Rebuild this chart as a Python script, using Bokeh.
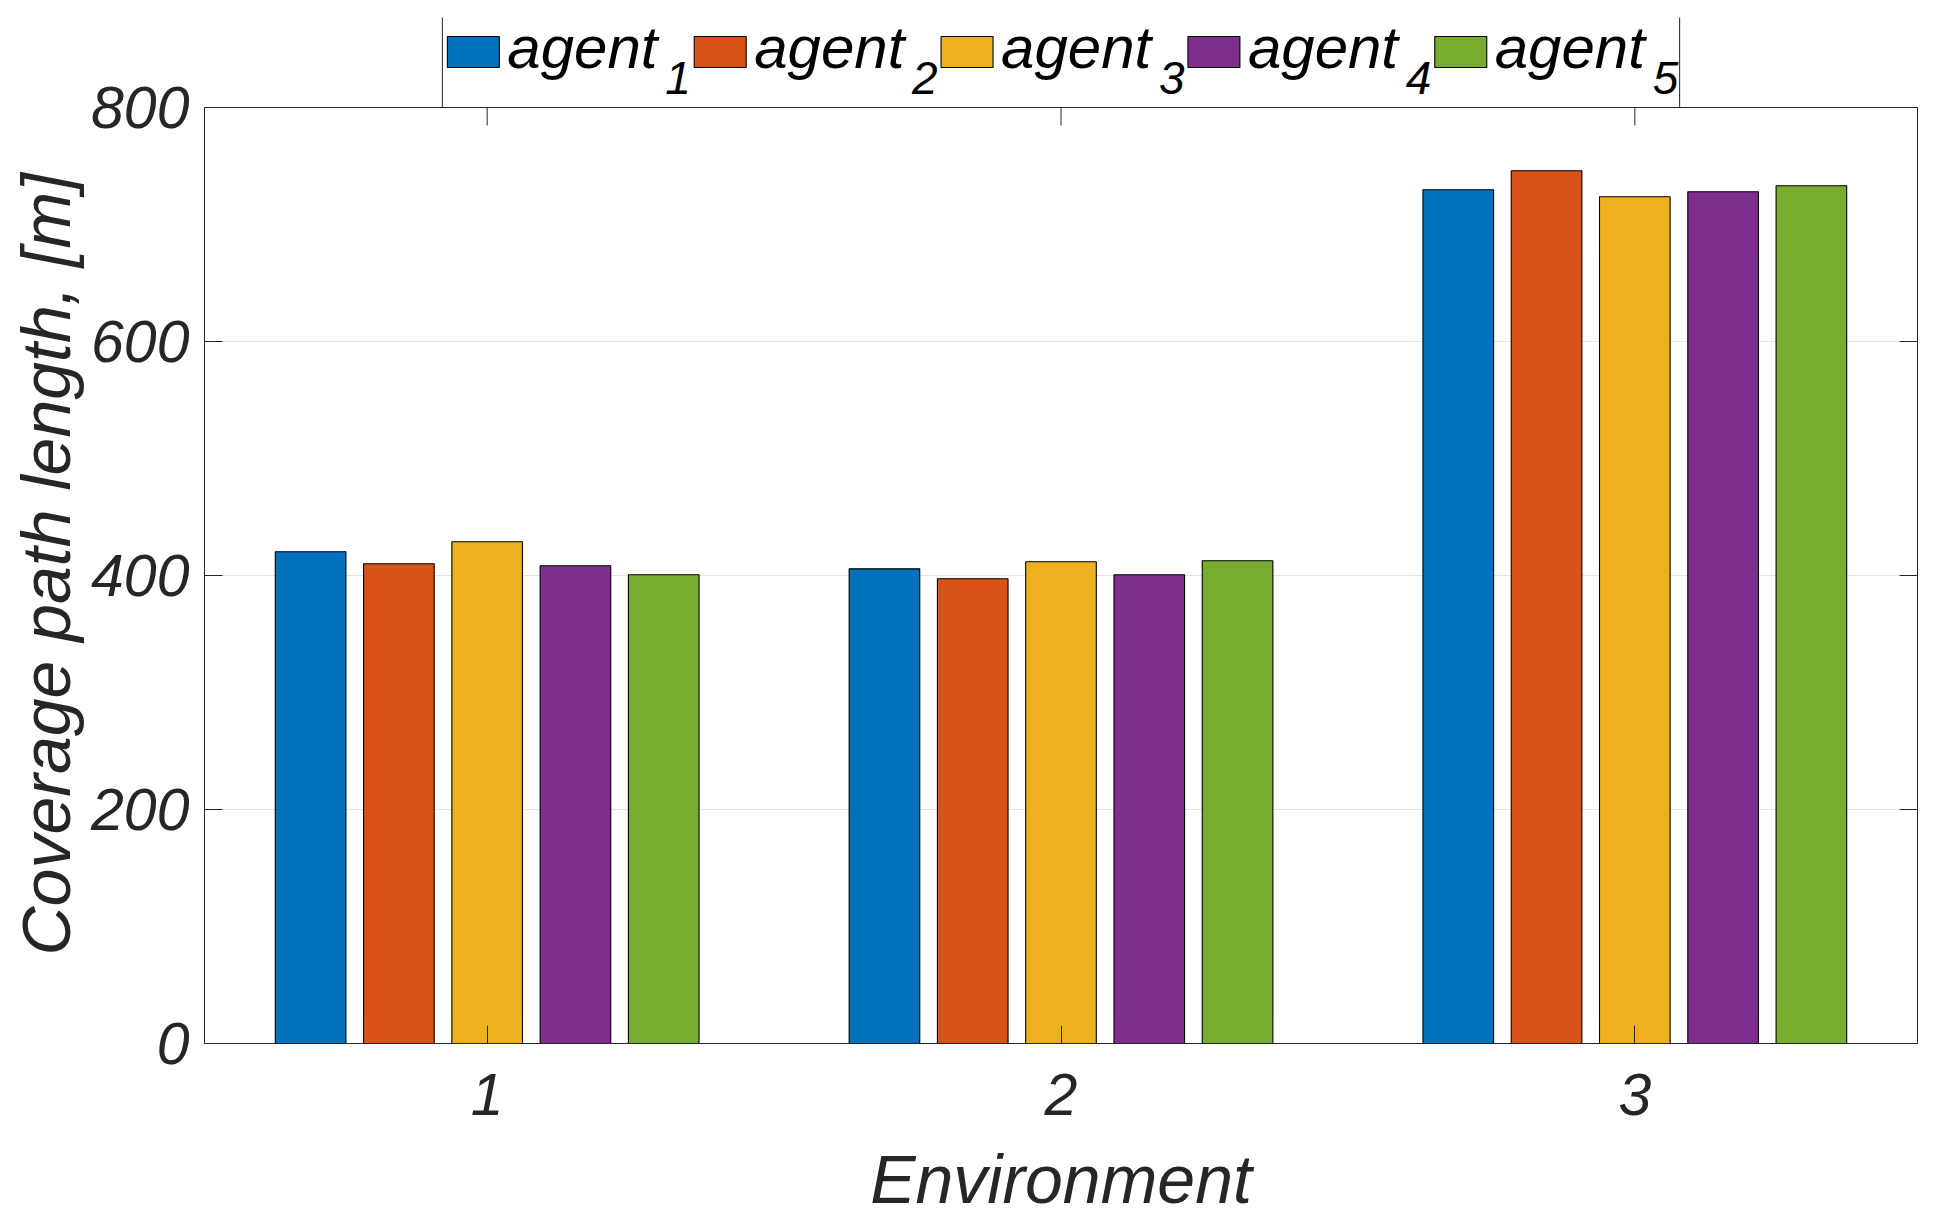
import math
from bokeh.plotting import figure
from bokeh.models import (Range1d, FixedTicker, ColumnDataSource, LinearAxis, Span, Title)
from bokeh.transform import dodge
from bokeh.core.properties import value
from bokeh.embed import file_html
from bokeh.resources import INLINE

# ---- data ----
environments = [1, 2, 3]
agent_names = ["agent", "agent", "agent", "agent", "agent"]
agent_subs = ["1", "2", "3", "4", "5"]
agent1 = [420.3, 405.7, 729.7]
agent2 = [410.0, 397.2, 745.9]
agent3 = [428.8, 411.7, 723.7]
agent4 = [408.3, 400.6, 728.0]
agent5 = [400.6, 412.6, 733.1]
y_ticks = [0, 200, 400, 600, 800]
x_ticks = [1, 2, 3]
y_max = 800
colors = ["#0072BD", "#D95319", "#EDB120", "#7E2F8E", "#77AC30"]

FONT = "Liberation Sans"
AX = "#262626"

src = ColumnDataSource(dict(env=environments, a1=agent1, a2=agent2, a3=agent3,
                            a4=agent4, a5=agent5))

# ---- layout (page pixels) ----
W = 1932
PAGE_LEFT = 2           # page x of the canvas left edge
PAGE_TOP = 0            # page y of the canvas top
FRAME_L = 205           # page x of box left
FRAME_R = 1919          # page x of box right
BOX_TOP = 107           # page y of the axes box top (value 800)
BOX_BOTTOM = 1043       # page y of the axes box bottom (value 0)
LEFT_B = FRAME_L - PAGE_LEFT
RIGHT_B = PAGE_LEFT + W - FRAME_R
BOTTOM_B = 177
FRAME_H = BOX_BOTTOM - PAGE_TOP
H = FRAME_H + BOTTOM_B
y_end = y_max * (BOX_BOTTOM - PAGE_TOP) / (BOX_BOTTOM - BOX_TOP)
x_pad = 0.4926

p = figure(width=W, height=H, x_range=Range1d(1 - x_pad, 3 + x_pad), y_range=Range1d(0, y_end),
           output_backend="svg", toolbar_location=None,
           min_border_left=LEFT_B, min_border_right=RIGHT_B, min_border_top=0,
           min_border_bottom=BOTTOM_B)
p.extra_x_ranges = {"px": Range1d(FRAME_L, FRAME_R)}
p.extra_y_ranges = {"px": Range1d(BOX_BOTTOM, PAGE_TOP)}
p.background_fill_color = "white"
p.outline_line_color = None

spacing = 0.7692 / 5
bar_w = 0.8 * spacing
keys = ["a1", "a2", "a3", "a4", "a5"]
for i, k in enumerate(keys):
    p.vbar(x=dodge("env", (i - 2) * spacing, range=p.x_range), top=k, bottom=0,
           width=bar_w, source=src, fill_color=colors[i], line_color="black", line_width=1.1)

p.xgrid.visible = False
p.ygrid.grid_line_color = "#e3e3e3"
p.ygrid.grid_line_width = 1
p.ygrid.ticker = FixedTicker(ticks=y_ticks[1:-1])

for ax in (p.xaxis[0], p.yaxis[0]):
    ax.major_tick_in = 18
    ax.major_tick_out = 0
    ax.minor_tick_line_color = None
    ax.axis_line_color = AX
    ax.major_tick_line_color = AX
    ax.major_label_text_font = FONT
    ax.major_label_text_font_style = "italic"
    ax.major_label_text_font_size = "59px"
    ax.major_label_text_color = AX
    ax.axis_label_text_font = FONT
    ax.axis_label_text_font_style = "italic"
    ax.axis_label_text_font_size = "68px"
    ax.axis_label_text_color = AX

p.xaxis.ticker = FixedTicker(ticks=x_ticks)
p.yaxis.ticker = FixedTicker(ticks=y_ticks)
p.yaxis.bounds = (0, y_max)
p.xaxis.axis_label = "Environment"
p.yaxis.major_label_standoff = 15
p.xaxis.major_label_standoff = 30
p.xaxis.axis_label_standoff = 23

# y label as a left-side title so it can be centred on the 0..800 box
ylab = Title(text="Coverage path length, [m]", align="left", offset=88,
             text_font=FONT, text_font_style="italic", text_font_size="68px",
             text_color=AX, standoff=10)
p.add_layout(ylab, "left")

# right and top box edges
ra = LinearAxis(ticker=FixedTicker(ticks=[]), bounds=(0, y_max), axis_line_color=AX,
                major_tick_line_color=None, minor_tick_line_color=None)
p.add_layout(ra, "right")
p.add_layout(Span(location=y_max, dimension="width", line_color=AX, line_width=1))

# inward ticks on the right and top box edges
p.ray(x=[p.x_range.end] * len(y_ticks), y=y_ticks, length=18, length_units="screen",
      angle=math.pi, line_color=AX, line_width=1)
p.ray(x=x_ticks, y=[y_max] * len(x_ticks), length=18, length_units="screen",
      angle=-math.pi / 2, line_color=AX, line_width=1)

# ---- legend (page-pixel coordinates) ----
step = 247
x0s = [448 + step * i for i in range(5)]
p.quad(left=x0s, right=[x + 52 for x in x0s], top=[36] * 5, bottom=[67] * 5,
       fill_color=colors, line_color="black", line_width=1.1,
       x_range_name="px", y_range_name="px")
p.text(x=[x + 60 for x in x0s], y=[47] * 5, text=agent_names,
       text_font=value(FONT), text_font_style="italic", text_font_size="60px",
       text_color="black", text_baseline="alphabetic", text_align="left",
       x_range_name="px", y_range_name="px")
p.text(x=[x + 218 for x in x0s], y=[77] * 5, text=agent_subs,
       text_font=value(FONT), text_font_style="italic", text_font_size="46px",
       text_color="black", text_baseline="alphabetic", text_align="left",
       x_range_name="px", y_range_name="px")
p.segment(x0=[443, 1681], y0=[17, 17], x1=[443, 1681], y1=[BOX_TOP, BOX_TOP],
          line_color=AX, line_width=1, x_range_name="px", y_range_name="px")

open("out.html", "w").write(file_html(p, INLINE))
